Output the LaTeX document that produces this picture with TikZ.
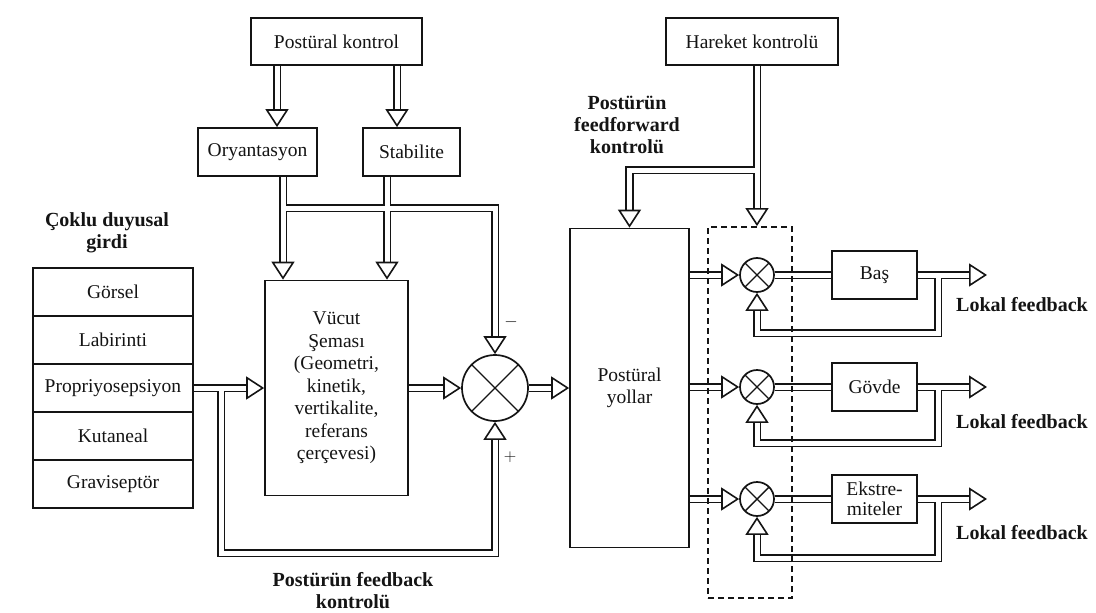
\documentclass[tikz,border=0pt]{standalone}
\usepackage{fontspec}
\setmainfont{Liberation Serif}
\usetikzlibrary{arrows.meta}
\definecolor{Ink}{HTML}{141414}

\begin{document}
\begin{tikzpicture}[x=1pt,y=-1pt,every node/.style={font=\fontsize{19.5}{22.5}\selectfont,text=Ink},
  box/.style={draw=Ink,line width=1.7pt,fill=white,align=center,inner sep=2pt},
  sum/.style={draw=Ink,circle,line width=1.7pt,fill=white,minimum size=#1,inner sep=0pt,
    path picture={\draw[Ink,line width=1.4pt] (path picture bounding box.north west)--(path picture bounding box.south east) (path picture bounding box.north east)--(path picture bounding box.south west);}},
  chan/.style={draw=Ink,double=white,double distance=5pt,line width=1.6pt},
  gap/.style={white,line width=5pt},
  arr/.style={-{Triangle[open,fill=white,width=23pt,length=18pt,line width=1.6pt]}},
  lbl/.style={font=\fontsize{20}{22}\selectfont\bfseries,align=center},
  dashbox/.style={draw=Ink,line width=1.8pt,dash pattern=on 6pt off 4pt,minimum width=84,minimum height=371}]
\useasboundingbox (0,0) rectangle (1096,613);
\fill[white] (0,0) rectangle (1096,613);
\node[box,minimum width=171,minimum height=47] (pk) at (336.5,41.5) {Postüral kontrol};
\node[box,minimum width=119,minimum height=48] (ory) at (257.5,152) {Oryantasyon};
\node[box,minimum width=97,minimum height=48] (stab) at (411.5,152) {Stabilite};
\node[box,minimum width=143,minimum height=215] (vucut) at (336.5,388) {Vücut\\Şeması\\(Geometri,\\kinetik,\\vertikalite,\\referans\\çerçevesi)};
\foreach \t [count=\i] in {Görsel,Labirinti,Propriyosepsiyon,Kutaneal,Graviseptör}
  \node[box,minimum width=160,minimum height=48] (s\i) at (113,244+48*\i) {\t};
\node[lbl] (girdi) at (107,233) {Çoklu duyusal\\girdi};
\node[sum=66] (comp) at (495,388) {};
\node[box,minimum width=119,minimum height=319] (yollar) at (629.5,388) {Postüral\\yollar};
\node[box,minimum width=172,minimum height=47] (hk) at (752,41.5) {Hareket kontrolü};
\node[lbl] (ff) at (627,125) {Postürün\\feedforward\\kontrolü};
\node[lbl] (fb) at (353,591) {Postürün feedback\\kontrolü};
\node[font=\fontsize{18}{18}\selectfont\bfseries] (minus) at (511,322) {$-$};
\node[font=\fontsize{16}{16}\selectfont] (plus) at (510,457) {$+$};
\draw[chan,arr] ([xshift=-59.5]pk.south) -- ([xshift=19.5]ory.north);
\draw[chan,arr] ([xshift=60.5]pk.south) -- ([xshift=-14.5]stab.north);
\draw[chan,arr] ([xshift=25.5]ory.south) -- ([xshift=-53.5]vucut.north);
\draw[chan,arr] ([xshift=-24.5]stab.south) -- ([xshift=50.5]vucut.north);
\coordinate (jo) at (283,208); \coordinate (js) at (387,208);
\draw[chan,arr] (jo) -| (comp.north);
\draw[gap] ([yshift=8]jo) -- ([yshift=-8]jo) ([yshift=8]js) -- ([yshift=-8]js);
\draw[chan,arr] (s3) -- (vucut);
\coordinate (jp) at (221,388);
\draw[chan,arr] (jp) -- (221,553) -| (comp.south);
\draw[gap] ([xshift=-8]jp) -- ([xshift=8]jp);
\draw[chan,arr] (vucut) -- (comp);
\draw[chan,arr] (comp) -- (yollar);
\foreach \n/\y/\t/\by/\ly in {1/275/Baş/333/305,2/387/Gövde/443/422,3/499/{Ekstre-\\[-2pt]miteler}/558/533}{
  \node[sum=34] (c\n) at (757,\y) {};
  \node[box,minimum width=85,minimum height=48] (b\n) at (874.5,\y) {\t};
  \coordinate (o\n) at (987,\y); \coordinate (l\n) at (938,\y);
  \node[lbl] (lf\n) at (1022,\ly) {Lokal feedback};
  \draw[chan,arr] (yollar.east |- c\n) -- (c\n);
  \draw[chan] (c\n) -- (b\n);
  \draw[chan,arr] (b\n) -- (o\n);
  \draw[chan,arr] (l\n) -- (938,\by) -| (c\n.south);
  \draw[gap] ([xshift=-8]l\n) -- ([xshift=8]l\n);
}
\node[dashbox] (grp) at (750,412.5) {};
\coordinate (jh) at (757,170);
\draw[chan,arr] (hk.south -| c1) -- (grp.north -| c1);
\draw[chan,arr] (jh) -| (yollar.north);
\draw[gap] ([yshift=8]jh) -- ([yshift=-8]jh);
\end{tikzpicture}
\end{document}
